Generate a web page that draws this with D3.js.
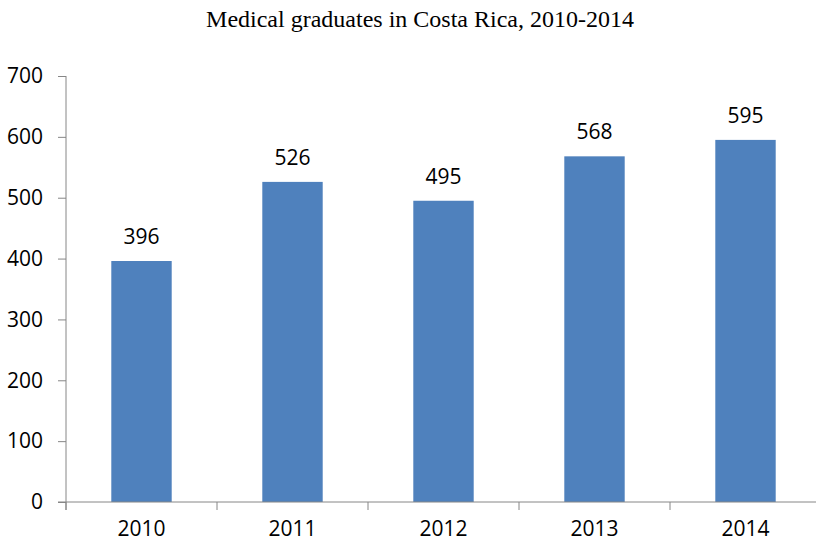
<!DOCTYPE html>
<html>
<head>
<meta charset="utf-8">
<script src="https://cdn.jsdelivr.net/npm/d3@7"></script>
<style>
  body { margin: 0; background: #fff; }
  svg { display: block; }
</style>
</head>
<body>
<svg id="chart" width="816" height="542"></svg>
<script>
const years = ["2010", "2011", "2012", "2013", "2014"];
const graduates = [396, 526, 495, 568, 595];
const yTicks = [0, 100, 200, 300, 400, 500, 600, 700];

const width = 816;
const height = 542;
const margin = { top: 76, left: 66, bottom: 40 };
const font = "'Open Sans', 'Liberation Sans', sans-serif";

const svg = d3.select("#chart");

const x = d3.scaleBand()
  .domain(years)
  .range([margin.left, margin.left + 151 * years.length])
  .paddingInner(0.6)
  .paddingOuter(0.3);

const y = d3.scaleLinear()
  .domain([0, 700])
  .range([height - margin.bottom, margin.top]);

svg.append("text")
  .attr("x", 420)
  .attr("y", 27)
  .attr("text-anchor", "middle")
  .attr("font-family", "'Liberation Serif', 'Times New Roman', serif")
  .attr("font-size", 24)
  .text("Medical graduates in Costa Rica, 2010-2014");

// bars
svg.append("g")
  .selectAll("rect")
  .data(graduates)
  .join("rect")
  .attr("x", (d, i) => x(years[i]))
  .attr("width", x.bandwidth())
  .attr("y", d => y(d))
  .attr("height", d => y(0) - y(d))
  .attr("fill", "#4F81BD");

svg.append("g")
  .selectAll("text")
  .data(graduates)
  .join("text")
  .attr("x", (d, i) => x(years[i]) + x.bandwidth() / 2)
  .attr("y", d => y(d) - 17)
  .attr("text-anchor", "middle")
  .attr("font-family", font)
  .attr("font-size", 21)
  .text(d => d);

// y axis
const yAxis = svg.append("g")
  .attr("transform", `translate(${margin.left},0)`)
  .call(d3.axisLeft(y).tickValues(yTicks).tickSize(8).tickSizeOuter(0).tickPadding(15));

// x axis, ticks at band edges
const xAxis = svg.append("g")
  .attr("transform", `translate(0,${y(0)})`);
xAxis.append("line")
  .attr("x1", margin.left - 8)
  .attr("x2", width)
  .attr("stroke", "#868686");
const edges = d3.range(years.length + 1).map(i => margin.left + i * x.step());
xAxis.selectAll(".edge")
  .data(edges)
  .join("line")
  .attr("class", "edge")
  .attr("x1", d => d).attr("x2", d => d)
  .attr("y1", 0).attr("y2", 8)
  .attr("stroke", "#868686");
xAxis.selectAll(".lbl")
  .data(years)
  .join("text")
  .attr("class", "lbl")
  .attr("x", d => x(d) + x.bandwidth() / 2)
  .attr("y", 34)
  .attr("text-anchor", "middle")
  .attr("font-family", font)
  .attr("font-size", 21)
  .text(d => d);

yAxis.select(".domain").attr("stroke", "#868686");
yAxis.selectAll(".tick line").attr("stroke", "#868686");
yAxis.selectAll(".tick text")
  .attr("fill", "#000")
  .attr("font-family", font)
  .attr("font-size", 21);
yAxis.select(".domain").attr("d", `M0,${y(700)}V${y(0) + 8}`);
</script>
</body>
</html>
